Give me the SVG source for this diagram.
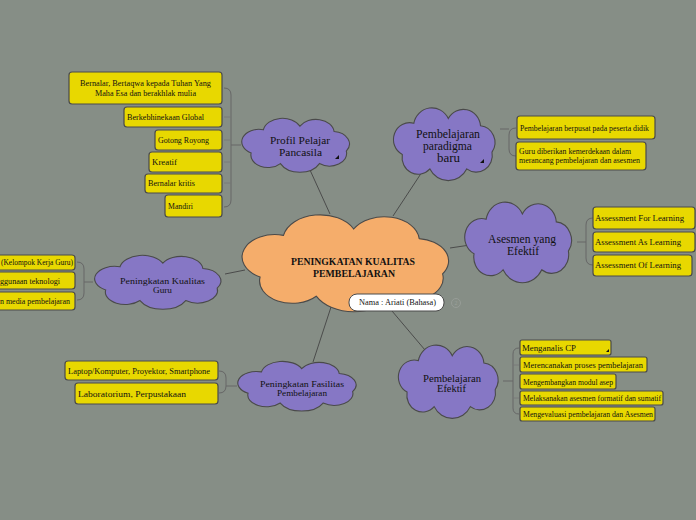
<svg xmlns="http://www.w3.org/2000/svg" xmlns:xlink="http://www.w3.org/1999/xlink" width="696" height="520" viewBox="0 0 696 520">
<style>
.bg{fill:#868e86}
.box{fill:#e8d800;stroke:#4a4a4a;stroke-width:1.2}
.bt{font-family:"Liberation Serif",serif;font-size:8px;fill:#111}
.ct{font-family:"Liberation Serif",serif;fill:#111;text-anchor:middle}
.link{fill:none;stroke:#444;stroke-width:0.9}
.br{fill:none;stroke:#666;stroke-width:1}
.tick{fill:none;stroke:#777;stroke-width:0.8}
.purple{fill:#8677c5}
.orange{fill:#f5ad6b}
.tri{fill:#111}
</style>
<defs>
<path id="cloud" d="M -28,-16 A 16 16 0 0 1 2,-20 A 15 15 0 0 1 30,-14 A 14 14 0 0 1 40,8 A 14 14 0 0 1 18,22 A 18 18 0 0 1 -14,22 A 14 14 0 0 1 -38,10 A 14 14 0 0 1 -28,-16 Z" stroke="#4a4a4a" stroke-width="1.1" vector-effect="non-scaling-stroke"/>
</defs>
<rect class="bg" x="0" y="0" width="696" height="520"/>

<g id="connectors">
<line class="link" x1="330" y1="214" x2="310" y2="170"/>
<line class="link" x1="393" y1="216" x2="422" y2="172"/>
<line class="link" x1="450" y1="248" x2="470" y2="245"/>
<line class="link" x1="245" y1="270" x2="225" y2="274"/>
<line class="link" x1="332" y1="304" x2="313" y2="362"/>
<line class="link" x1="392" y1="311" x2="425" y2="350"/>
<path class="br" d="M 241,145 L 231,145 M 224,88 Q 231,88 231,95 L 231,200 Q 231,207 224,207"/>
<path class="tick" d="M 231,117 L 224,117 M 231,140 L 224,140 M 231,162 L 224,162 M 231,183 L 224,183"/>
<path class="br" d="M 500,129 L 509,129 M 516,128 Q 509,128 509,135 L 509,149 Q 509,156 516,156"/>
<path class="br" d="M 577,242 L 586,242 M 593,218 Q 586,218 586,225 L 586,258 Q 586,265 593,265"/>
<path class="br" d="M 93,282 L 84,282 M 77,262 Q 84,262 84,269 L 84,293 Q 84,300 77,300"/>
<path class="br" d="M 237,386 L 226,386 M 219,371 Q 226,371 226,378 L 226,386 Q 226,393 219,393"/>
<path class="br" d="M 503,381 L 513,381 M 519,348 Q 513,348 513,354 L 513,408 Q 513,414 519,414"/>
<path class="tick" d="M 513,365 L 519,365 M 513,398 L 519,398"/>
</g>

<g id="center">
<use xlink:href="#cloud" class="orange" transform="translate(349,261) scale(2.34,1.6)"/>
<text class="ct" font-weight="bold" font-size="10" x="353" y="265" textLength="124" lengthAdjust="spacingAndGlyphs">PENINGKATAN KUALITAS</text>
<text class="ct" font-weight="bold" font-size="10" x="354" y="277" textLength="82" lengthAdjust="spacingAndGlyphs">PEMBELAJARAN</text>
</g>

<g id="nama">
<rect x="349" y="294" width="95" height="17" rx="8" fill="#fff" stroke="#4a4a4a" stroke-width="1"/>
<text class="ct" font-size="8" x="397.5" y="305" textLength="77" lengthAdjust="spacingAndGlyphs">Nama : Ariati (Bahasa)</text>
<circle cx="456" cy="303" r="4.5" fill="none" stroke="#9aa09a" stroke-width="0.8"/>
<text class="ct" font-size="6" x="456" y="305" style="fill:#9aa09a">2</text>
</g>

<g id="profil">
<use xlink:href="#cloud" class="purple" transform="translate(297.5,144) scale(1.22,0.89)"/>
<text class="ct" font-size="10.5" x="300" y="144" textLength="60" lengthAdjust="spacingAndGlyphs">Profil Pelajar</text>
<text class="ct" font-size="10.5" x="300.5" y="156" textLength="43" lengthAdjust="spacingAndGlyphs">Pancasila</text>
<path class="tri" d="M 339,155 L 339,159 L 335,159 Z"/>
</g>
<g id="profil-items">
<rect class="box" x="69" y="72" width="153" height="32" rx="3"/>
<text class="bt" text-anchor="middle" x="145.5" y="86" textLength="131" lengthAdjust="spacingAndGlyphs">Bernalar, Bertaqwa kepada Tuhan Yang</text>
<text class="bt" text-anchor="middle" x="145.5" y="96" textLength="101" lengthAdjust="spacingAndGlyphs">Maha Esa dan berakhlak mulia</text>
<rect class="box" x="124" y="107" width="98" height="20" rx="3"/>
<text class="bt" x="127" y="120" textLength="77" lengthAdjust="spacingAndGlyphs">Berkebhinekaan Global</text>
<rect class="box" x="155" y="130" width="67" height="20" rx="3"/>
<text class="bt" x="158" y="143" textLength="51" lengthAdjust="spacingAndGlyphs">Gotong Royong</text>
<rect class="box" x="149" y="152" width="73" height="20" rx="3"/>
<text class="bt" x="152" y="165" textLength="25" lengthAdjust="spacingAndGlyphs">Kreatif</text>
<rect class="box" x="145" y="174" width="77" height="19" rx="3"/>
<text class="bt" x="148" y="186" textLength="47" lengthAdjust="spacingAndGlyphs">Bernalar kritis</text>
<rect class="box" x="165" y="195" width="57" height="22" rx="3"/>
<text class="bt" x="168" y="209" textLength="25" lengthAdjust="spacingAndGlyphs">Mandiri</text>
</g>

<g id="paradigma">
<use xlink:href="#cloud" class="purple" transform="translate(446,142.5) scale(1.15,1.2)"/>
<text class="ct" font-size="11.5" x="448" y="138" textLength="64" lengthAdjust="spacingAndGlyphs">Pembelajaran</text>
<text class="ct" font-size="11.5" x="447.5" y="150" textLength="49" lengthAdjust="spacingAndGlyphs">paradigma</text>
<text class="ct" font-size="11.5" x="448.5" y="162" textLength="23" lengthAdjust="spacingAndGlyphs">baru</text>
<path class="tri" d="M 484,159 L 484,163 L 480,163 Z"/>
</g>
<g id="paradigma-items">
<rect class="box" x="517" y="116" width="138" height="23" rx="3"/>
<text class="bt" font-size="7.5" x="520" y="131" textLength="129" lengthAdjust="spacingAndGlyphs">Pembelajaran berpusat pada peserta didik</text>
<rect class="box" x="516" y="142" width="130" height="28" rx="3"/>
<text class="bt" font-size="7.5" x="519" y="154" textLength="112" lengthAdjust="spacingAndGlyphs">Guru diberikan kemerdekaan dalam</text>
<text class="bt" font-size="7.5" x="519" y="163" textLength="121" lengthAdjust="spacingAndGlyphs">merancang pembelajaran dan asesmen</text>
</g>

<g id="asesmen">
<use xlink:href="#cloud" class="purple" transform="translate(520,240.5) scale(1.21,1.33)"/>
<text class="ct" font-size="11.5" x="522" y="243" textLength="68" lengthAdjust="spacingAndGlyphs">Asesmen yang</text>
<text class="ct" font-size="11.5" x="523" y="255" textLength="32" lengthAdjust="spacingAndGlyphs">Efektif</text>
</g>
<g id="asesmen-items">
<rect class="box" x="593" y="207" width="102" height="22" rx="3"/>
<text class="bt" x="595" y="221" textLength="89" lengthAdjust="spacingAndGlyphs">Assessment For Learning</text>
<rect class="box" x="593" y="232" width="102" height="20" rx="3"/>
<text class="bt" x="595" y="245" textLength="86" lengthAdjust="spacingAndGlyphs">Assessment As Learning</text>
<rect class="box" x="593" y="255" width="99" height="21" rx="3"/>
<text class="bt" x="595" y="268" textLength="86" lengthAdjust="spacingAndGlyphs">Assessment Of Learning</text>
</g>

<g id="guru">
<use xlink:href="#cloud" class="purple" transform="translate(160,281) scale(1.43,0.89)"/>
<text class="ct" font-size="9" x="162.5" y="284" textLength="85" lengthAdjust="spacingAndGlyphs">Peningkatan Kualitas</text>
<text class="ct" font-size="9" x="162.5" y="293" textLength="19" lengthAdjust="spacingAndGlyphs">Guru</text>
</g>
<g id="guru-items">
<rect class="box" x="-5" y="255" width="80" height="15" rx="3"/>
<text class="bt" font-size="7.5" x="1" y="265" textLength="72" lengthAdjust="spacingAndGlyphs">(Kelompok Kerja Guru)</text>
<rect class="box" x="-5" y="272" width="80" height="17" rx="3"/>
<text class="bt" font-size="7.5" x="0" y="284" textLength="60" lengthAdjust="spacingAndGlyphs">ggunaan teknologi</text>
<rect class="box" x="-5" y="292" width="80" height="18" rx="3"/>
<text class="bt" font-size="7.5" x="0" y="304" textLength="70" lengthAdjust="spacingAndGlyphs">n media pembelajaran</text>
</g>

<g id="fasilitas">
<use xlink:href="#cloud" class="purple" transform="translate(299,385) scale(1.34,0.82)"/>
<text class="ct" font-size="8.5" x="302" y="387" textLength="84" lengthAdjust="spacingAndGlyphs">Peningkatan Fasilitas</text>
<text class="ct" font-size="8.5" x="302" y="396" textLength="50" lengthAdjust="spacingAndGlyphs">Pembelajaran</text>
</g>
<g id="fasilitas-items">
<rect class="box" x="65" y="361" width="153" height="19" rx="3"/>
<text class="bt" x="68" y="374" textLength="142" lengthAdjust="spacingAndGlyphs">Laptop/Komputer, Proyektor, Smartphone</text>
<rect class="box" x="75" y="383" width="143" height="21" rx="3"/>
<text class="bt" font-size="9" x="78" y="397" textLength="108" lengthAdjust="spacingAndGlyphs">Laboratorium, Perpustakaan</text>
</g>

<g id="efektif">
<use xlink:href="#cloud" class="purple" transform="translate(450,380) scale(1.13,1.21)"/>
<text class="ct" font-size="10" x="452" y="382" textLength="58" lengthAdjust="spacingAndGlyphs">Pembelajaran</text>
<text class="ct" font-size="10" x="451.5" y="392" textLength="29" lengthAdjust="spacingAndGlyphs">Efektif</text>
</g>
<g id="efektif-items">
<rect class="box" x="520" y="340" width="91" height="15" rx="2"/>
<text class="bt" x="522" y="351" textLength="54" lengthAdjust="spacingAndGlyphs">Menganalis CP</text>
<path class="tri" d="M 609,349 L 609,352 L 606,352 Z"/>
<rect class="box" x="520" y="357" width="127" height="15" rx="2"/>
<text class="bt" font-size="7.5" x="523" y="368" textLength="120" lengthAdjust="spacingAndGlyphs">Merencanakan proses pembelajaran</text>
<rect class="box" x="520" y="374" width="96" height="15" rx="2"/>
<text class="bt" font-size="7.5" x="523" y="385" textLength="90" lengthAdjust="spacingAndGlyphs">Mengembangkan modul asep</text>
<rect class="box" x="520" y="391" width="143" height="14" rx="2"/>
<text class="bt" font-size="7.5" x="523" y="401" textLength="138" lengthAdjust="spacingAndGlyphs">Melaksanakan asesmen formatif dan sumatif</text>
<rect class="box" x="520" y="407" width="135" height="14" rx="2"/>
<text class="bt" font-size="7.5" x="523" y="417" textLength="130" lengthAdjust="spacingAndGlyphs">Mengevaluasi pembelajaran dan Asesmen</text>
</g>
</svg>
